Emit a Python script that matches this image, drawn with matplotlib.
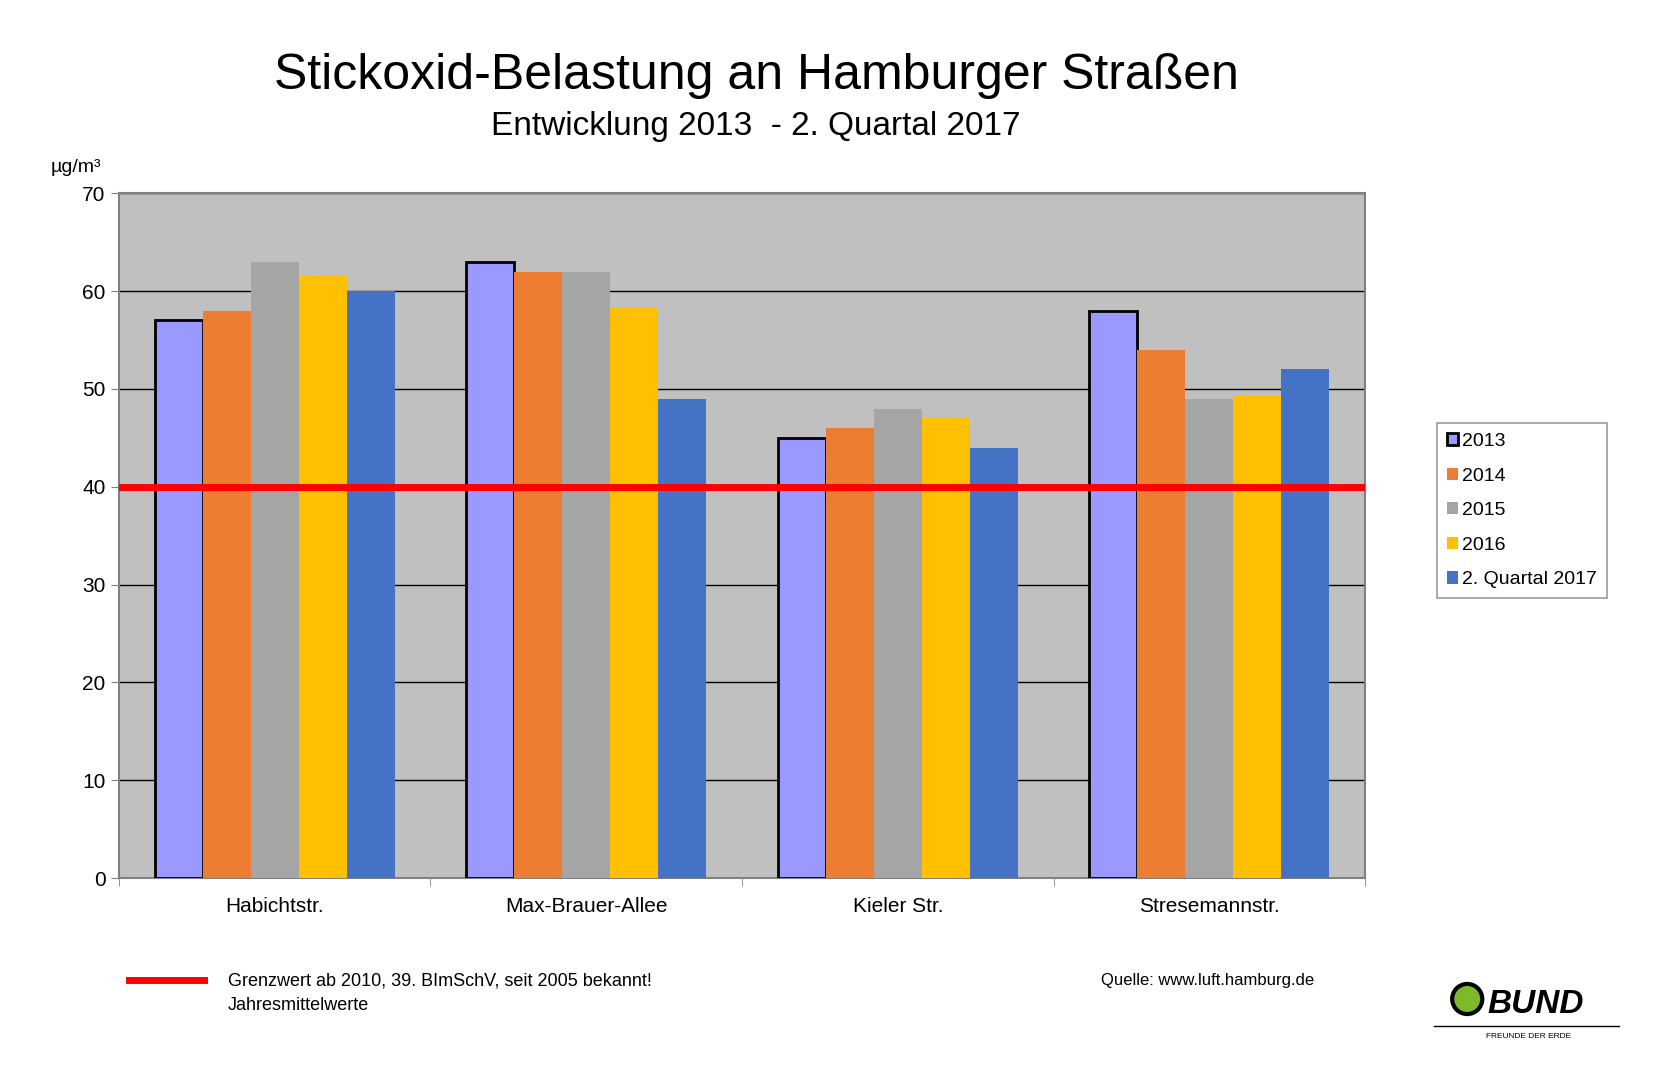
import numpy as np
import matplotlib.pyplot as plt
from matplotlib.patches import Ellipse

streets = ['Habichtstr.', 'Max-Brauer-Allee', 'Kieler Str.', 'Stresemannstr.']
series = ['2013', '2014', '2015', '2016', '2. Quartal 2017']
v2013 = [57, 63, 45, 58]
v2014 = [58, 62, 46, 54]
v2015 = [63, 62, 48, 49]
v2016 = [61.5, 58.3, 47, 49.3]
v2017 = [60, 49, 44, 52]
values = [v2013, v2014, v2015, v2016, v2017]
colors = ['#9999FF', '#ED7D31', '#A5A5A5', '#FFC000', '#4472C4']
limit = 40

plt.rcParams['font.family'] = ['Liberation Sans', 'DejaVu Sans']
fig = plt.figure(figsize=(16.73, 10.8), dpi=100)
ax = fig.add_axes([0.071, 0.187, 0.745, 0.634])
ax.set_facecolor('#C0C0C0')

x = np.arange(len(streets))
w = 0.154
for i, (vals, c) in enumerate(zip(values, colors)):
    edge = 'black' if i == 0 else 'none'
    ax.bar(x + (i - 2) * w, vals, w, color=c, edgecolor=edge, linewidth=2 if i == 0 else 0,
           label=series[i], zorder=3)
ax.axhline(limit, color='#FF0000', linewidth=5, zorder=4)

ax.set_xlim(-0.5, 3.5)
ax.set_ylim(0, 70)
ax.set_yticks(range(0, 71, 10))
ax.yaxis.grid(True, color='black', linewidth=1, zorder=0)
ax.set_xticks(x)
ax.set_xticklabels(streets, fontsize=15)
ax.set_xticks(np.arange(-0.5, 4, 1), minor=True)
ax.tick_params(axis='x', which='major', length=0, pad=14)
ax.tick_params(axis='x', which='minor', length=6, color='#808080')
ax.tick_params(axis='y', labelsize=15, length=6, color='#808080')
for s in ax.spines.values():
    s.set_color('#808080')
    s.set_linewidth(1.5)

fig.text(0.452, 0.93, 'Stickoxid-Belastung an Hamburger Straßen', ha='center', va='center', fontsize=36)
fig.text(0.452, 0.883, 'Entwicklung 2013  - 2. Quartal 2017', ha='center', va='center', fontsize=24)
fig.text(0.03, 0.845, 'µg/m³', fontsize=14, va='center')

leg = fig.legend(loc='upper left', bbox_to_anchor=(0.853, 0.617), fontsize=14, frameon=True,
                 fancybox=False, edgecolor='#808080', handlelength=0.6, handleheight=0.6,
                 handletextpad=0.2, labelspacing=0.9, borderpad=0.5)
leg.get_frame().set_linewidth(1.2)

fig.lines.append(plt.Line2D([0.077, 0.122], [0.093, 0.093], color='#FF0000', linewidth=5,
                            transform=fig.transFigure))
fig.text(0.136, 0.092, 'Grenzwert ab 2010, 39. BImSchV, seit 2005 bekannt!', fontsize=13, va='center')
fig.text(0.136, 0.069, 'Jahresmittelwerte', fontsize=13, va='center')
fig.text(0.658, 0.092, 'Quelle: www.luft.hamburg.de', fontsize=12, va='center')

# BUND logo
fig.patches.append(Ellipse((0.877, 0.075), 0.018, 0.018 * 16.73 / 10.8, transform=fig.transFigure,
                           facecolor='#7DB928', edgecolor='black', linewidth=3))
fig.text(0.889, 0.07, 'BUND', fontsize=24, fontweight='bold', style='italic', va='center')
fig.lines.append(plt.Line2D([0.857, 0.968], [0.05, 0.05], color='black', linewidth=1,
                            transform=fig.transFigure))
fig.text(0.888, 0.04, 'FREUNDE DER ERDE', fontsize=6, va='center')

fig.savefig('out.png')
